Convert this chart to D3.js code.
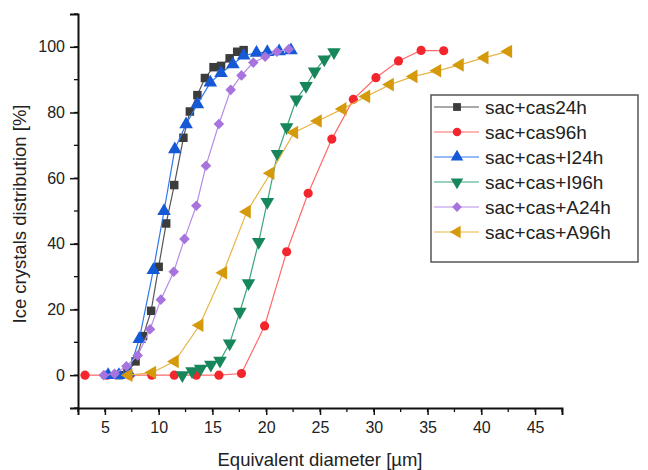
<!DOCTYPE html>
<html>
<head>
<meta charset="utf-8">
<script src="https://cdn.jsdelivr.net/npm/d3@7"></script>
<style>
  body { margin: 0; background: #fff; }
  text { font-family: Arial, "Liberation Sans", sans-serif; fill: #222; }
</style>
</head>
<body>
<svg width="648" height="470"></svg>
<script>
// series names, in legend order
var seriesNames = ["sac+cas24h", "sac+cas96h", "sac+cas+I24h", "sac+cas+I96h", "sac+cas+A24h", "sac+cas+A96h"];

// values: [diameter µm, distribution %]
var cas24 = [[6.3,0],[7.1,0.8],[7.85,4.2],[8.55,11.9],[9.3,19.6],[10.0,33],[10.7,46.2],[11.45,57.9],
  [12.3,72.3],[12.9,80.3],[13.6,85.3],[14.3,90.5],[15.1,93.8],[15.8,94.2],[16.6,96.5],[17.3,98.5],[17.9,99]];
var cas96 = [[3.15,0],[5.2,0],[7.3,0],[9.35,0],[11.45,0],[13.5,0],[15.6,0],[17.7,0.5],[19.85,15],
  [21.9,37.6],[23.9,55.4],[26.1,71.9],[28.1,84],[30.2,90.6],[32.3,95.7],[34.4,98.9],[36.5,98.8]];
var casI24 = [[5.3,0],[6.3,0],[7.2,0.8],[8.2,11],[9.5,32],[10.5,50],[11.5,68.8],[12.55,76.4],[13.6,82.5],
  [14.8,89.1],[15.8,92],[16.9,94.7],[17.9,97.3],[19.1,98.2],[20.1,98.4],[21.2,98.6],[22.3,98.9]];
var casI96 = [[12.2,0],[13.1,1.2],[13.9,2],[14.85,3.2],[15.7,4.4],[16.6,9.7],[17.55,19.3],[18.35,28],
  [19.3,40.6],[20.1,52.8],[21.05,67.4],[21.9,75.5],[22.8,84],[23.7,88.1],[24.5,92.5],[25.4,96.2],[26.3,98.4]];
var casA24 = [[4.9,0],[5.9,0.4],[7.0,2.7],[8.05,6],[9.2,14],[10.2,23],[11.4,31.5],[12.4,41.5],[13.5,51.6],
  [14.4,63.8],[15.6,76.5],[16.7,86.9],[17.7,91.3],[18.8,95.2],[19.9,97],[21.0,98.5],[22.1,99.3]];
var casA96 = [[7.2,0],[9.4,0.8],[11.5,4.2],[13.8,15.2],[16.0,31.2],[18.2,49.8],[20.4,61.5],[22.6,73.9],
  [24.8,77.4],[27.1,81.1],[29.3,84.9],[31.5,88.5],[33.7,91],[35.9,92.7],[38.0,94.5],[40.3,96.7],[42.5,98.6]];

var xTicks = [5,10,15,20,25,30,35,40,45];
var yTicks = [0,20,40,60,80,100];

var seriesData = [cas24, cas96, casI24, casI96, casA24, casA96];
var lineColors = ["#555555", "#ff6a6a", "#2f78ee", "#3aa57c", "#b68de6", "#e6b545"];
var markColors = ["#3c3c3c", "#f2262c", "#1559d6", "#17865a", "#a774dd", "#d49a0c"];
var shapes = [
  {type: d3.symbolSquare, size: 72, rot: 0},
  {type: d3.symbolCircle, size: 66, rot: 0},
  {type: d3.symbolTriangle, size: 80, rot: 0},
  {type: d3.symbolTriangle, size: 80, rot: 180},
  {type: d3.symbolSquare, size: 56, rot: 45},
  {type: d3.symbolTriangle, size: 80, rot: -90}
];

var svg = d3.select("svg");

var x = d3.scaleLinear().domain([2.5, 47.5]).range([78, 562]);
var y = d3.scaleLinear().domain([-10, 110]).range([408, 14]);

// minor ticks
var xMinor = d3.range(2.5, 47.6, 2.5);
var yMinor = d3.range(-10, 111, 10);

var xAxis = svg.append("g").attr("transform", "translate(0," + y(-10) + ")");
xAxis.selectAll("line.minor").data(xMinor).enter().append("line")
  .attr("x1", function(d){ return x(d); }).attr("x2", function(d){ return x(d); })
  .attr("y1", 0).attr("y2", 4).attr("stroke", "#111").attr("stroke-width", 1.3);
xAxis.call(d3.axisBottom(x).tickValues(xTicks).tickSize(7).tickPadding(7));

var yAxis = svg.append("g").attr("transform", "translate(" + x(2.5) + ",0)");
yAxis.selectAll("line.minor").data(yMinor).enter().append("line")
  .attr("y1", function(d){ return y(d); }).attr("y2", function(d){ return y(d); })
  .attr("x1", 0).attr("x2", -4).attr("stroke", "#111").attr("stroke-width", 1.3);
yAxis.call(d3.axisLeft(y).tickValues(yTicks).tickSize(8).tickPadding(5));

svg.selectAll(".domain").attr("stroke", "#111").attr("stroke-width", 2);
svg.selectAll(".tick line").attr("stroke", "#111").attr("stroke-width", 1.5);
svg.selectAll(".tick text").style("font-size", "16px").attr("fill", "#222");

// axis titles
svg.append("text").attr("x", 320).attr("y", 466).attr("text-anchor", "middle")
  .style("font-size", "18.5px").text("Equivalent diameter [µm]");
svg.append("text").attr("transform", "translate(26," + 214 + ") rotate(-90)")
  .attr("text-anchor", "middle").style("font-size", "18.5px").text("Ice crystals distribution [%]");

var line = d3.line().x(function(d){ return x(d[0]); }).y(function(d){ return y(d[1]); });

seriesData.forEach(function(data, i){
  var g = svg.append("g");
  g.append("path").datum(data).attr("d", line)
    .attr("fill", "none").attr("stroke", lineColors[i]).attr("stroke-width", 1.2);
  var sym = d3.symbol().type(shapes[i].type).size(shapes[i].size);
  g.selectAll("path.m").data(data).enter().append("path")
    .attr("class", "m")
    .attr("d", sym)
    .attr("transform", function(d){
      return "translate(" + x(d[0]) + "," + y(d[1]) + ") rotate(" + shapes[i].rot + ")";
    })
    .attr("fill", markColors[i]);
});

// legend
var legend = svg.append("g").attr("transform", "translate(431,95)");
legend.append("rect").attr("width", 207).attr("height", 167)
  .attr("fill", "#fff").attr("stroke", "#555").attr("stroke-width", 1.5);
seriesNames.forEach(function(name, i){
  var yy = 12 + i * 25;
  legend.append("line").attr("x1", 3).attr("x2", 48).attr("y1", yy).attr("y2", yy)
    .attr("stroke", lineColors[i]).attr("stroke-width", 1.2);
  legend.append("path")
    .attr("d", d3.symbol().type(shapes[i].type).size(shapes[i].size * 0.85))
    .attr("transform", "translate(26," + yy + ") rotate(" + shapes[i].rot + ")")
    .attr("fill", markColors[i]);
  legend.append("text").attr("x", 54).attr("y", yy + 7)
    .style("font-size", "19px").text(name);
});
</script>
</body>
</html>
